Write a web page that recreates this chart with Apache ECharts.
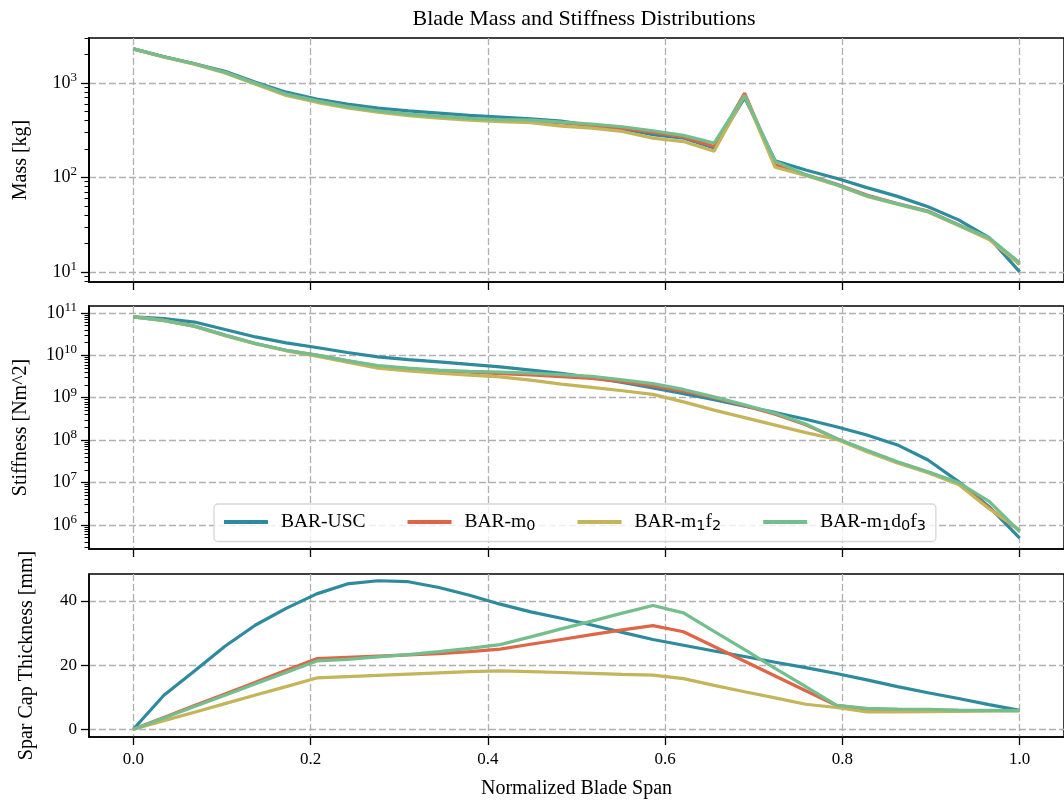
<!DOCTYPE html>
<html>
<head>
<meta charset="utf-8">
<script src="https://cdn.jsdelivr.net/npm/echarts@6/dist/echarts.min.js"></script>
<style>
  html, body { margin: 0; padding: 0; background: #fff; }
  #chart { width: 1064px; height: 800px; }
</style>
</head>
<body>
<div id="chart"></div>
<script>
// normalized span stations (30 per blade)
const span = [0, 0.0345, 0.069, 0.1034, 0.1379, 0.1724, 0.2069, 0.2414, 0.2759, 0.3103,
  0.3448, 0.3793, 0.4138, 0.4483, 0.4828, 0.5172, 0.5517, 0.5862, 0.6207, 0.6552,
  0.6897, 0.7241, 0.7586, 0.7931, 0.8276, 0.8621, 0.8966, 0.931, 0.9655, 1.0];

const seriesNames = ["BAR-USC", "BAR-m0", "BAR-m1f2", "BAR-m1d0f3"];
const legendLabels = ["BAR-USC", "BAR-m{s|0}", "BAR-m{s|1}f{s|2}", "BAR-m{s|1}d{s|0}f{s|3}"];
const colors = ["#2E8B9E", "#DF6547", "#C4B45A", "#74BE8E"];

// tick positions
const spanTicks = [0, 0.2, 0.4, 0.6, 0.8, 1.0];
const massTicks = [10, 100, 1000];
const stiffTicks = [1e6, 1e7, 1e8, 1e9, 1e10, 1e11];
const sparTicks = [0, 20, 40];

// mass [kg]
const massUSC = [2300, 1900, 1600, 1330, 1020, 800, 677, 598, 543, 508, 480, 454, 436, 418, 395,
  354, 328, 283, 261, 205, 700, 150, 120, 98, 78, 63, 49, 35.5, 23, 10];
const massM0 = [2300, 1900, 1600, 1300, 990, 760, 645, 560, 505, 465, 440, 420, 405, 400, 378,
  356, 333, 300, 269, 213, 783, 136, 107, 85, 65, 53, 44, 31.5, 22.5, 12];
const massM1F2 = [2300, 1880, 1580, 1280, 970, 740, 625, 545, 490, 450, 425, 405, 390, 380, 350,
  333, 307, 261, 240, 189, 740, 128, 105, 83, 63, 52, 43, 31, 22, 12];
const massM1D0F3 = [2300, 1900, 1600, 1300, 995, 765, 648, 563, 508, 468, 443, 423, 410, 405, 385,
  367, 344, 312, 279, 231, 740, 148, 107, 84, 64, 52.5, 43.6, 31.4, 23, 12.5];

// flapwise stiffness [Nm^2]
const stiffUSC = [8.05e10, 7.4e10, 6.1e10, 4.06e10, 2.72e10, 1.97e10, 1.53e10, 1.17e10, 9.2e9, 7.9e9,
  7.0e9, 6.1e9, 5.35e9, 4.47e9, 3.74e9, 3.0e9, 2.3e9, 1.7e9, 1.25e9, 9.0e8,
  6.3e8, 4.5e8, 3.1e8, 2.07e8, 1.32e8, 7.7e7, 3.4e7, 1.05e7, 2.7e6, 4.85e5];
const stiffM0 = [8.05e10, 6.7e10, 4.9e10, 3.0e10, 1.9e10, 1.32e10, 1.01e10, 7.4e9, 5.6e9, 4.8e9,
  4.3e9, 4.0e9, 3.7e9, 3.45e9, 3.15e9, 2.85e9, 2.4e9, 1.9e9, 1.42e9, 1.0e9,
  6.5e8, 4.1e8, 2.3e8, 1.1e8, 5.6e7, 3.0e7, 1.75e7, 9.6e6, 2.5e6, 7.3e5];
const stiffM1F2 = [8.05e10, 6.6e10, 4.8e10, 2.9e10, 1.85e10, 1.28e10, 9.6e9, 6.9e9, 5.0e9, 4.3e9,
  3.8e9, 3.4e9, 3.1e9, 2.6e9, 2.1e9, 1.75e9, 1.46e9, 1.2e9, 8.0e8, 5.1e8,
  3.4e8, 2.26e8, 1.5e8, 1.05e8, 5.3e7, 2.9e7, 1.7e7, 9.0e6, 2.4e6, 7.6e5];
const stiffM1D0F3 = [8.05e10, 6.7e10, 4.9e10, 3.0e10, 1.9e10, 1.32e10, 1.01e10, 7.5e9, 5.7e9, 5.0e9,
  4.5e9, 4.2e9, 4.0e9, 3.8e9, 3.5e9, 3.2e9, 2.65e9, 2.15e9, 1.57e9, 1.05e9,
  6.8e8, 4.3e8, 2.4e8, 1.1e8, 5.8e7, 3.1e7, 1.8e7, 1.0e7, 3.6e6, 6.9e5];

// spar cap thickness [mm]
const sparUSC = [0, 10.6, 18.2, 25.9, 32.5, 37.7, 42.2, 45.3, 46.3, 46.0, 44.2, 41.8, 39.0, 36.6, 34.6,
  32.5, 30.2, 28.0, 26.2, 24.4, 22.7, 20.9, 19.2, 17.4, 15.4, 13.3, 11.4, 9.6, 7.7, 5.9];
const sparM0 = [0, 3.7, 7.4, 11.0, 14.7, 18.4, 22.0, 22.4, 22.8, 23.2, 23.6, 24.2, 25.0, 26.5, 28.0,
  29.5, 31.0, 32.3, 30.4, 25.8, 21.2, 16.6, 12.0, 7.5, 6.3, 6.0, 5.9, 5.8, 5.8, 5.8];
const sparM1F2 = [0, 2.7, 5.3, 8.0, 10.7, 13.3, 16.0, 16.4, 16.8, 17.2, 17.6, 18.0, 18.2, 18.0, 17.7,
  17.4, 17.1, 16.9, 15.8, 13.7, 11.7, 9.8, 7.8, 6.8, 5.4, 5.4, 5.5, 5.6, 5.7, 5.8];
const sparM1D0F3 = [0, 3.5, 7.1, 10.6, 14.2, 17.7, 21.3, 21.8, 22.6, 23.3, 24.2, 25.2, 26.4, 28.8, 31.3,
  33.7, 36.2, 38.6, 36.3, 30.5, 24.8, 19.0, 13.3, 7.5, 6.5, 6.3, 6.2, 6.0, 5.9, 5.8];

const panels = [
  [massUSC, massM0, massM1F2, massM1D0F3],
  [stiffUSC, stiffM0, stiffM1F2, stiffM1D0F3],
  [sparUSC, sparM0, sparM1F2, sparM1D0F3],
];

const serif = "'Liberation Serif', 'DejaVu Serif', serif";
const gridColor = "#b0b0b0";

// minor log ticks 2..9 x 10^n
function minorTicks(lo, hi) {
  const out = [];
  for (let e = lo; e <= hi; e++) {
    for (let m = 2; m <= 9; m++) out.push(m * Math.pow(10, e));
  }
  return out;
}

const powLabel = (v) => {
  const e = Math.round(Math.log10(v));
  return "{b|10}{e|" + e + "}";
};
const powRich = {
  b: { fontFamily: serif, fontSize: 18, color: "#000" },
  e: { fontFamily: serif, fontSize: 13, color: "#000", padding: [0, 0, 11, 0] },
};

const chart = echarts.init(document.getElementById("chart"), null, { renderer: "canvas" });

const grids = [
  { left: 89, right: -6, top: 38, height: 244 },
  { left: 89, right: -6, top: 306, height: 243 },
  { left: 89, right: -6, top: 574, height: 163 },
].map(g => ({ ...g, show: true, borderColor: "#000", borderWidth: 1.5, containLabel: false }));

const axisLineStyle = { show: true, onZero: false, lineStyle: { color: "#000", width: 1.5 } };
const dashed = { show: true, lineStyle: { color: gridColor, width: 1.3, type: [7, 3] } };

const xAxes = [0, 1, 2].map(i => ({
  type: "value",
  gridIndex: i,
  min: -0.05,
  max: 1.05,
  name: i === 2 ? "Normalized Blade Span" : "",
  nameLocation: "middle",
  nameGap: 42,
  nameTextStyle: { fontFamily: serif, fontSize: 20, color: "#000" },
  axisLine: axisLineStyle,
  axisTick: { show: true, length: 8, customValues: spanTicks, lineStyle: { color: "#000", width: 1.3 } },
  axisLabel: {
    show: i === 2, margin: 14, fontFamily: serif, fontSize: 17, color: "#000",
    customValues: spanTicks,
    formatter: v => v.toFixed(1),
  },
  splitLine: dashed,
}));

const yBase = {
  position: "left",
  nameLocation: "middle",
  nameTextStyle: { fontFamily: serif, fontSize: 20, color: "#000" },
  axisLine: axisLineStyle,
  splitLine: dashed,
};
const majorTick = (vals) => ({ show: true, length: 8, customValues: vals, lineStyle: { color: "#000", width: 1.3 } });

const yAxes = [
  {
    ...yBase, type: "log", logBase: 10, gridIndex: 0, min: 7.8, max: 3000,
    name: "Mass [kg]", nameGap: 58,
    axisTick: majorTick(massTicks),
    axisLabel: { margin: 12, customValues: massTicks, formatter: powLabel, rich: powRich },
  },
  {
    ...yBase, type: "log", logBase: 10, gridIndex: 1, min: 2.7e5, max: 1.46e11,
    name: "Stiffness [Nm^2]", nameGap: 58,
    axisTick: majorTick(stiffTicks),
    axisLabel: { margin: 12, customValues: stiffTicks, formatter: powLabel, rich: powRich },
  },
  {
    ...yBase, type: "value", gridIndex: 2, min: -2.4, max: 48.4,
    name: "Spar Cap Thickness [mm]", nameGap: 52,
    axisTick: majorTick(sparTicks),
    axisLabel: { margin: 12, customValues: sparTicks, fontFamily: serif, fontSize: 17, color: "#000" },
  },
  // minor ticks for the two log panels
  {
    type: "log", logBase: 10, gridIndex: 0, min: 7.8, max: 3000, position: "left", offset: 0,
    axisLine: axisLineStyle,
    axisTick: { show: true, length: 4.5, customValues: minorTicks(0, 3), lineStyle: { color: "#000", width: 1 } },
    axisLabel: { show: false }, splitLine: { show: false },
  },
  {
    type: "log", logBase: 10, gridIndex: 1, min: 2.7e5, max: 1.46e11, position: "left", offset: 0,
    axisLine: axisLineStyle,
    axisTick: { show: true, length: 4.5, customValues: minorTicks(5, 11), lineStyle: { color: "#000", width: 1 } },
    axisLabel: { show: false }, splitLine: { show: false },
  },
];

const series = [];
panels.forEach((arrs, p) => {
  arrs.forEach((arr, k) => {
    series.push({
      name: seriesNames[k],
      type: "line",
      xAxisIndex: p,
      yAxisIndex: p,
      data: span.map((x, i) => [x, arr[i]]),
      symbol: "none",
      color: colors[k],
      lineStyle: { width: 3.2, color: colors[k] },
      z: 2 + k,
    });
  });
});

const option = {
  backgroundColor: "#fff",
  animation: false,
  title: {
    text: "Blade Mass and Stiffness Distributions",
    left: 579,
    top: 3,
    textAlign: "center",
    textStyle: { fontFamily: serif, fontSize: 22, fontWeight: "normal", color: "#000" },
  },
  legend: {
    data: seriesNames,
    left: 214,
    top: 504,
    orient: "horizontal",
    icon: "rect",
    itemWidth: 44,
    itemHeight: 4,
    itemGap: 42,
    padding: [8, 10, 8, 10],
    backgroundColor: "rgba(255,255,255,0.8)",
    borderColor: "#d6d6d6",
    borderWidth: 1.3,
    borderRadius: 4,
    formatter: name => legendLabels[seriesNames.indexOf(name)],
    textStyle: {
      fontFamily: serif, fontSize: 19.5, color: "#000", padding: [0, 0, 0, 8],
      rich: {
        s: { fontFamily: "'DejaVu Sans', sans-serif", fontSize: 14.5, color: "#000", padding: [8, 0, 0, 0] },
      },
    },
  },
  grid: grids,
  xAxis: xAxes,
  yAxis: yAxes,
  series: series,
};

chart.setOption(option);
</script>
</body>
</html>
